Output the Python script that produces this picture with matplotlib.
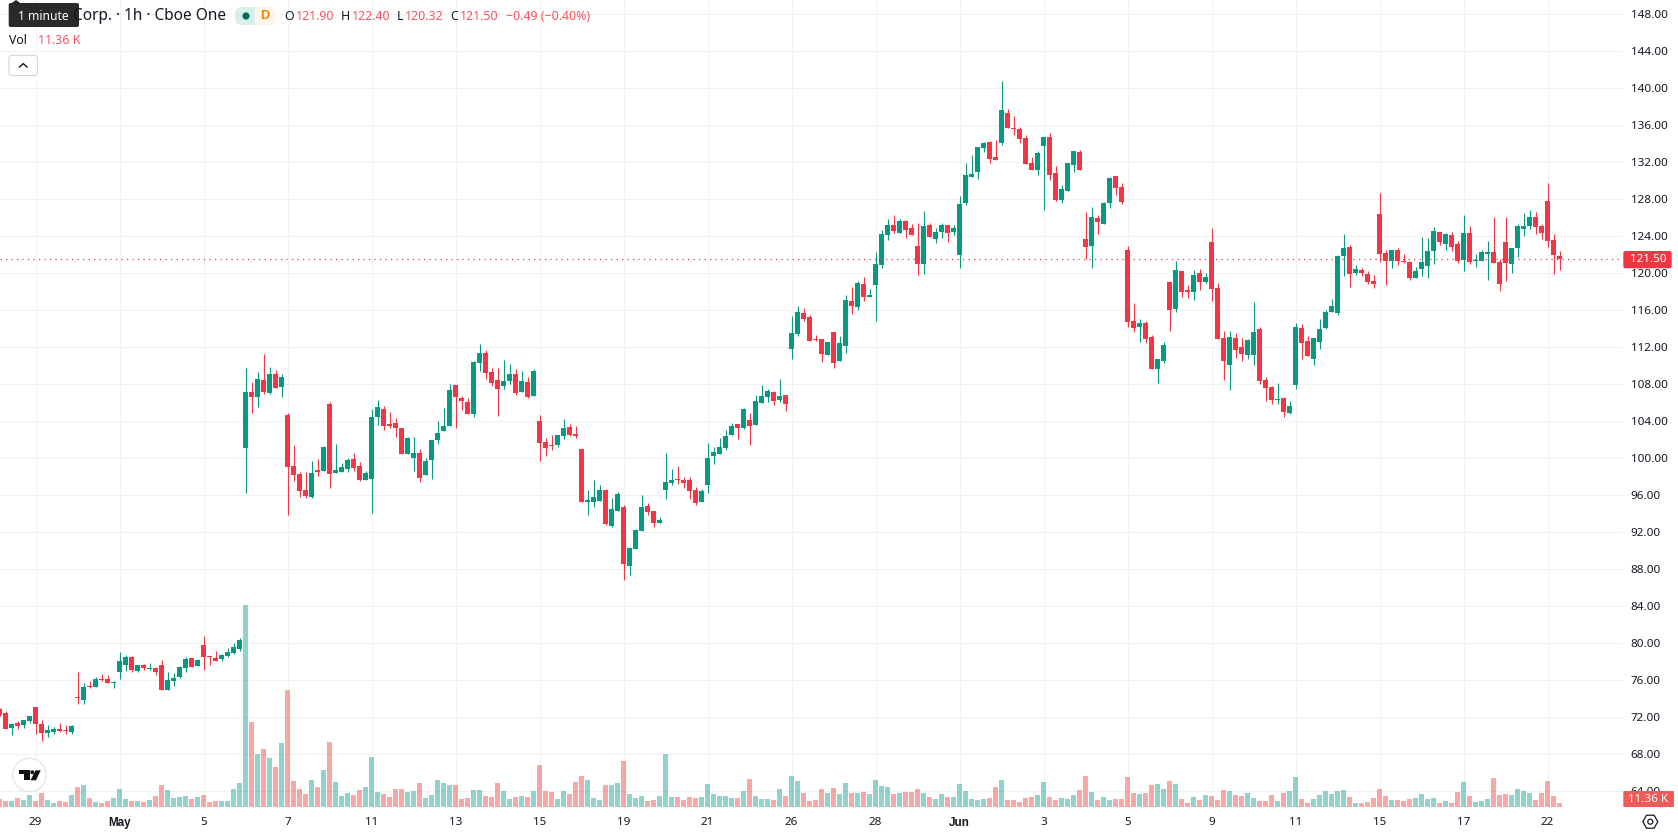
import numpy as np
import matplotlib
matplotlib.use('Agg')
import matplotlib.pyplot as plt
from matplotlib.patches import FancyBboxPatch, Rectangle, Circle, Polygon, RegularPolygon
from matplotlib.lines import Line2D
from matplotlib.transforms import Affine2D

plt.rcParams['font.family'] = ['Noto Sans', 'DejaVu Sans']

# hourly candles, oldest first
opens = [72.86,72.47,70.85,71.39,71.17,71.6,73.12,71.28,70.31,70.41,
    70.74,70.63,70.41,74.2,73.87,75.39,75.28,76.14,76.14,75.71,
    76.9,77.66,78.52,77.01,77.66,77.23,77.33,77.66,74.95,75.93,
    76.36,77.33,78.41,77.55,79.82,78.63,78.41,78.3,78.63,78.95,
    79.39,101.12,107.17,106.63,108.47,107.06,109.12,107.71,104.68,99.17,
    98.31,96.58,95.82,98.74,98.63,105.87,98.41,98.52,98.85,99.93,
    99.17,97.66,97.77,104.47,105.33,103.71,103.82,103.28,100.47,100.04,
    100.58,98.2,99.82,101.98,102.95,103.5,107.93,106.52,106.09,104.79,
    110.31,111.39,109.33,108.47,107.82,108.36,109.12,107.17,108.25,106.74,
    104.04,101.77,101.44,101.44,102.41,103.39,102.63,101.01,95.28,95.28,
    95.39,96.58,92.68,94.31,94.74,88.36,90.2,92.14,94.85,94.31,
    93.01,96.58,97.33,97.77,97.66,97.66,96.58,95.28,97.12,100.25,
    100.47,101.12,102.52,103.71,103.28,104.14,103.6,105.98,106.63,107.17,
    106.31,106.85,111.82,113.44,115.71,115.28,112.9,112.9,111.17,113.66,
    110.52,112.14,117.01,116.36,118.85,117.44,118.74,120.9,124.14,125.23,
    124.36,125.66,124.9,122.95,121.01,125.23,123.71,124.47,125.23,124.47,
    121.98,127.6,130.41,130.95,133.55,134.2,132.58,134.09,137.33,135.71,
    135.6,134.63,131.93,131.17,133.77,134.74,130.85,127.93,128.9,131.71,
    133.12,123.71,122.95,125.98,125.33,127.6,130.52,129.33,122.52,114.85,
    114.2,114.63,113.12,109.66,110.52,119.06,116.14,120.25,118.2,117.98,
    120.04,119.06,123.39,118.41,113.01,110.09,113.01,112.04,111.17,111.17,
    113.98,108.47,107.71,106.31,106.52,104.9,107.93,114.09,112.68,110.74,
    112.58,114.05,115.78,115.68,121.87,122.85,120.04,120.36,119.93,119.17,
    126.41,122.2,121.33,122.52,121.33,121.23,119.5,120.47,120.79,122.41,
    124.47,123.17,124.14,123.17,121.44,124.36,121.33,121.33,122.09,122.31,
    121.23,123.39,121.01,122.74,124.79,125.12,126.09,125.12,127.82,123.6,
    121.9]

highs = [73.0,72.68,71.28,71.6,71.71,72.14,73.12,71.71,71.17,70.95,
    71.39,71.17,71.17,76.9,75.7,75.93,76.36,76.68,76.58,75.93,
    79.06,78.74,78.63,77.66,77.77,77.87,77.44,78.2,76.9,76.79,
    77.55,78.52,78.41,78.3,80.79,78.63,79.17,78.85,79.5,80.04,
    80.58,109.77,108.25,109.33,111.28,109.87,109.55,109.12,104.9,101.44,
    98.52,98.52,99.71,99.93,101.33,106.09,101.55,99.5,100.04,100.58,
    99.6,98.63,105.33,106.31,105.66,105.0,104.36,103.28,102.31,102.31,
    101.01,100.04,101.98,104.04,105.44,108.04,107.93,106.74,106.52,110.52,
    112.36,111.71,109.77,109.77,110.63,110.2,109.66,109.44,108.79,109.66,
    104.68,102.2,102.52,102.52,104.25,103.71,103.5,101.01,96.58,97.66,
    97.12,96.68,95.71,96.36,94.95,90.41,92.36,96.04,95.17,94.31,
    93.66,100.58,98.85,99.17,97.98,97.98,96.9,96.68,101.66,101.23,
    102.2,103.06,103.82,103.71,105.44,104.9,106.85,107.93,107.5,107.28,
    108.58,106.85,115.39,116.47,116.25,115.5,113.33,112.9,112.58,113.66,
    113.23,117.66,118.52,119.17,119.6,118.31,122.31,124.68,125.87,126.31,
    125.87,125.77,125.33,125.44,126.74,125.44,124.9,125.44,125.23,125.23,
    128.36,131.93,132.79,133.66,134.2,134.31,134.41,140.79,137.77,137.01,
    135.82,134.95,132.58,133.23,134.74,135.17,131.6,129.55,131.93,133.23,
    133.33,126.63,127.17,126.31,127.71,130.41,130.52,129.77,122.95,116.79,
    115.06,114.85,113.33,110.74,112.58,119.17,121.33,120.25,118.74,120.36,
    120.47,120.04,124.9,118.95,113.77,113.77,113.55,113.01,112.9,116.9,
    114.2,108.79,107.82,108.14,106.63,106.2,114.63,114.52,113.23,113.01,
    115.06,116.0,117.19,121.98,124.25,123.06,120.9,120.58,120.25,119.82,
    128.68,122.52,122.52,122.74,122.09,121.33,120.68,123.93,123.82,125.01,
    124.47,124.36,124.47,123.5,126.31,125.12,122.09,122.52,123.5,126.09,
    121.55,126.09,122.74,125.33,126.52,126.85,126.63,125.33,129.77,124.25,
    122.4]

lows = [72.1,70.74,70.09,70.74,70.85,71.39,70.2,69.44,69.87,70.2,
    70.41,70.2,70.2,73.44,73.44,75.17,75.28,75.93,75.71,75.17,
    76.14,77.01,76.9,76.9,77.12,77.12,76.58,74.95,74.95,75.39,
    76.25,76.9,77.44,77.55,77.12,77.66,78.09,78.09,78.52,78.85,
    79.17,96.25,104.9,105.55,106.95,106.95,107.6,106.63,93.87,97.55,
    95.82,95.71,95.71,98.09,98.63,96.79,98.41,98.52,98.52,98.63,
    97.55,97.66,94.09,103.6,103.06,103.28,102.31,100.47,100.47,98.63,
    97.44,98.2,97.77,101.55,102.95,103.5,103.28,105.23,104.79,104.47,
    109.44,108.58,107.82,104.58,107.5,108.04,106.85,107.17,106.52,106.74,
    99.71,100.25,100.9,101.23,102.09,102.41,102.2,95.28,93.87,94.74,
    95.39,92.79,92.58,94.31,86.85,87.39,90.2,92.14,93.87,92.58,
    93.01,95.6,97.12,97.23,96.79,95.6,94.95,95.28,96.25,99.39,
    100.47,100.9,102.52,102.09,103.17,101.44,103.6,105.98,106.09,105.77,
    106.09,105.12,110.74,113.23,114.85,112.68,112.68,110.41,111.17,109.77,
    110.52,111.39,115.6,116.04,117.01,117.44,114.85,120.58,123.6,124.36,
    124.36,123.82,124.14,119.82,119.93,123.93,123.28,123.82,123.39,124.14,
    120.58,127.39,130.41,130.2,133.12,131.93,132.25,133.87,135.71,134.95,
    134.09,131.82,131.17,130.63,126.85,130.09,127.82,127.6,128.9,130.95,
    131.17,121.51,120.58,124.25,125.33,127.06,128.47,127.5,114.2,113.66,
    112.58,112.47,109.66,108.14,110.31,113.77,115.82,117.44,117.33,117.12,
    118.2,118.95,117.01,112.9,108.47,107.39,110.85,110.52,110.74,110.09,
    108.04,106.2,105.87,105.87,104.47,104.79,107.5,110.74,111.06,110.09,
    111.82,113.95,115.78,115.46,119.71,118.52,119.82,119.71,118.85,118.41,
    121.23,118.74,120.58,120.9,121.12,119.28,119.5,119.71,119.5,121.01,
    123.06,122.52,122.41,121.12,120.25,121.01,120.68,121.33,119.28,121.12,
    118.09,119.17,120.04,121.77,124.04,124.79,124.25,123.71,122.85,119.93,
    120.32]

closes = [72.29,70.74,71.28,71.06,71.71,72.14,71.28,70.31,70.63,70.74,
    70.52,70.52,71.06,74.09,75.28,75.28,76.14,76.04,75.71,75.82,
    78.09,78.52,77.12,77.66,77.33,77.33,76.9,74.95,76.04,76.25,
    77.44,78.3,77.44,78.2,78.52,78.52,78.09,78.74,79.06,79.6,
    80.36,107.17,106.63,108.58,107.17,109.12,107.6,108.79,99.06,98.2,
    96.47,95.93,98.41,98.52,101.22,98.31,98.74,99.06,99.82,98.95,
    97.66,98.41,104.47,105.55,103.5,103.5,103.28,100.47,102.2,100.58,
    97.87,99.71,101.98,102.74,103.5,107.39,106.63,106.2,104.79,110.41,
    111.39,109.23,108.14,107.5,108.36,109.12,107.06,108.36,106.63,109.44,
    101.66,101.12,101.33,102.52,103.28,102.52,102.41,95.28,95.5,95.82,
    96.58,92.9,94.52,96.14,88.58,90.31,92.25,94.74,94.2,93.01,
    93.33,97.44,97.66,97.66,97.33,96.47,95.17,96.47,100.04,100.68,
    101.23,102.41,103.5,103.28,105.33,103.5,106.2,106.74,107.28,106.2,
    106.74,105.87,113.55,115.82,115.06,112.68,112.79,111.28,112.58,110.31,
    112.47,117.12,116.47,118.95,117.44,117.66,121.01,124.25,125.23,124.58,
    125.66,124.68,124.14,121.01,125.12,123.93,124.47,125.23,124.36,124.9,
    127.5,130.63,130.74,133.66,134.09,132.36,132.25,137.66,135.71,135.6,
    134.52,131.82,131.17,133.01,134.74,130.63,127.93,129.12,131.93,133.23,
    131.17,122.85,126.09,125.55,127.6,130.31,129.23,127.71,114.74,114.09,
    114.63,112.9,109.66,110.74,112.25,116.04,120.36,117.98,117.98,119.82,
    119.06,119.6,118.31,112.9,110.52,113.12,111.71,111.28,112.79,113.66,
    108.36,107.6,106.31,106.41,105.01,105.66,114.2,112.47,111.06,113.01,
    113.98,115.78,116.43,121.87,122.74,119.93,120.47,120.04,119.06,118.85,
    122.09,121.33,122.52,121.33,121.23,119.5,120.25,121.23,122.41,124.58,
    123.39,124.25,122.85,121.33,124.36,121.23,121.44,122.31,122.31,121.12,
    118.85,121.12,122.74,125.12,125.12,126.09,125.01,124.36,123.5,121.99,
    121.5]

# volume in thousands
volumes = [22.7,17.0,17.0,25.6,19.9,34.1,17.0,39.8,19.9,11.4,
    17.0,14.2,34.1,56.8,62.5,25.6,14.2,11.4,17.0,25.6,
    51.1,22.7,17.0,17.0,14.2,19.9,31.2,62.5,48.3,25.6,
    28.4,31.2,22.7,28.4,34.1,14.2,17.0,17.0,17.0,51.1,
    68.2,573.7,241.4,150.5,164.7,139.2,113.6,181.8,332.3,73.8,
    51.1,36.9,76.7,56.8,105.1,184.6,71.0,31.2,39.8,34.1,
    48.3,56.8,142.0,42.6,36.9,28.4,51.1,51.1,42.6,45.4,
    68.2,25.6,34.1,76.7,68.2,62.5,62.5,22.7,25.6,48.3,
    48.3,31.2,28.4,68.2,45.4,22.7,28.4,31.2,28.4,45.4,
    119.3,45.4,42.6,22.7,45.4,36.9,71.0,88.0,76.7,25.6,
    19.9,62.5,62.5,68.2,130.6,36.9,25.6,31.2,17.0,19.9,
    31.2,150.5,28.4,28.4,19.9,28.4,25.6,28.4,65.3,36.9,
    31.2,31.2,25.6,25.6,45.4,79.5,31.2,22.7,22.7,19.9,
    51.1,31.2,88.0,73.8,39.8,17.0,19.9,51.1,39.8,54.0,
    36.9,68.2,39.8,39.8,42.6,36.9,76.7,59.6,56.8,36.9,
    39.8,42.6,42.6,51.1,39.8,28.4,22.7,36.9,28.4,28.4,
    65.3,45.4,22.7,19.9,22.7,25.6,56.8,76.7,19.9,19.9,
    14.2,25.6,28.4,34.1,71.0,28.4,19.9,25.6,22.7,34.1,
    48.3,88.0,42.6,19.9,28.4,19.9,22.7,22.7,85.2,39.8,
    36.9,39.8,62.5,65.3,51.1,73.8,65.3,22.7,11.4,28.4,
    19.9,34.1,31.2,19.9,48.3,45.4,34.1,31.2,39.8,25.6,
    17.0,17.0,34.1,17.0,39.8,45.4,85.2,22.7,11.4,22.7,
    34.1,45.4,36.9,45.4,48.3,28.4,11.4,11.4,14.2,25.6,
    51.1,31.2,19.9,19.9,17.0,22.7,25.6,36.9,22.7,25.6,
    11.4,17.0,11.4,42.6,71.0,31.2,14.2,17.0,22.7,82.4,
    34.1,36.9,34.1,51.1,45.4,39.8,19.9,39.8,73.8,31.2,
    11.36]

price_ticks = list(range(64, 152, 4))
time_ticks = [6, 20, 34, 48, 62, 76, 90, 104, 118, 132, 146, 160, 174, 188, 202, 216, 230, 244, 258]
time_labels = ['29', 'May', '5', '7', '11', '13', '15', '19', '21', '26', '28', 'Jun', '3', '5', '9', '11', '15', '17', '22']
last_price = 121.50

UP = '#089981'
DOWN = '#F23645'
INK = '#131722'
RED_TXT = '#F7525F'
W, H = 1678, 835

o = np.array(opens)
c = np.array(closes)
hi = np.array(highs)
lo = np.array(lows)
vol = np.array(volumes)
x = np.arange(len(o))
is_up = c >= o
cols = np.where(is_up, UP, DOWN)
vcols = np.where(is_up, '#26a69a', '#ef5350')

fig = plt.figure(figsize=(W / 100, H / 100), dpi=100, facecolor='white')
# top-left pixel coordinates for the header overlays
px = Affine2D().scale(1, -1).translate(0, H)

ax = fig.add_axes([0, 25 / H, 1623 / W, 810 / H])
ax.set_xlim(0.083, 270.58)
ax.set_ylim(61.98, 149.55)
ax.set_facecolor('white')
for s in ax.spines.values():
    s.set_visible(False)

# candles
ax.vlines(x, lo, hi, colors=cols, linewidth=0.8, zorder=2)
ax.bar(x, np.abs(c - o), bottom=np.minimum(o, c), width=5 / 6, color=cols, linewidth=0, zorder=3)
ax.axhline(last_price, color=DOWN, linewidth=0.9, linestyle=(0, (1, 3.4)), zorder=4)

# volume pane shares the x axis, 0.352 px per 1K
ax2 = ax.twinx()
ax2.set_xlim(ax.get_xlim())
ax2.set_ylim(-8.5, 2292.6)
ax2.patch.set_visible(False)
ax2.axis('off')
ax2.bar(x, vol, width=5 / 6, color=vcols, alpha=0.5, linewidth=0)

# twinx moves the price ticks to the left, so set the axes up after it
ax.grid(True, color='#F1F1F1', linewidth=0.72)
ax.set_axisbelow(True)
ax.yaxis.tick_right()
ax.set_xticks(time_ticks)
ax.set_xticklabels(time_labels)
ax.set_yticks(price_ticks)
ax.set_yticklabels(['%.2f' % p for p in price_ticks])
ax.tick_params(axis='both', length=0, labelsize=8.4, labelcolor=INK)
ax.tick_params(axis='x', pad=5)
ax.tick_params(axis='y', pad=5.6)
# Noto Sans here has no bold cut
for lab in ax.get_xticklabels():
    if lab.get_text() in ('May', 'Jun'):
        lab.set_fontfamily('Liberation Sans')
        lab.set_fontweight('bold')


def label(xp, yp, s, color=INK, size=8.9, ha='left', **kw):
    fig.text(xp, yp, s, transform=px, color=color, fontsize=size, ha=ha, va='center', zorder=20, **kw)


def box(x0, y0, x1, y1, color, radius=2, edge='none', z=15):
    fig.add_artist(FancyBboxPatch((x0, y0), x1 - x0, y1 - y0, boxstyle='round,pad=0,rounding_size=%g' % radius,
                                  transform=px, facecolor=color, edgecolor=edge, linewidth=0.8, zorder=z))


# legend row
label(226.6, 16, 'Corp. · 1h · Cboe One', size=11.1, ha='right')
box(8.7, 3, 79, 27, '#2A2A2A', radius=2, z=16)
fig.add_artist(Polygon([[11, 3.5], [16, 0], [21, 3.5]], transform=px, facecolor='#2A2A2A', edgecolor='none', zorder=16))
label(43.8, 16, '1 minute', color='white', size=8.7, ha='center')

box(235, 7, 275, 25, '#FFF5E8', radius=8)
fig.add_artist(FancyBboxPatch((235, 7), 24, 18, boxstyle='round,pad=0,rounding_size=8', transform=px,
                              facecolor='#D5EFEB', edgecolor='none', zorder=15.2))
fig.add_artist(Rectangle((255, 7), 20, 18, transform=px, facecolor='#FFF5E8', edgecolor='none', zorder=15.3))
box(262, 7, 275, 25, '#FFF5E8', radius=8, z=15.4)
fig.add_artist(Circle((246, 16), 3.6, transform=px, facecolor='#006B5B', edgecolor='none', zorder=16))
label(264.5, 16, 'D', color='#F57C00', size=9, ha='center', fontweight='bold', family='Liberation Sans')

for name, xn, val, xv in [('O', 284, '121.90', 296), ('H', 341, '122.40', 351.5), ('L', 396.6, '120.32', 405), ('C', 450, '121.50', 460)]:
    label(xn, 16, name)
    label(xv, 16, val, color=RED_TXT)
label(506, 16, '−0.49 (−0.40%)', color=RED_TXT)
label(9, 40.7, 'Vol')
label(37.6, 40.7, '11.36 K', color=RED_TXT)

# collapse button
box(9, 55.5, 37.5, 75.5, 'white', radius=3, edge='#D6D6D6')
fig.add_artist(Line2D([19.5, 23.3, 27], [67, 63.6, 67], transform=px, color=INK, linewidth=1.0, zorder=20))

# last value tags on the price scale
box(1623.3, 251, 1671.7, 268.3, DOWN, radius=2)
label(1648.5, 259.7, '121.50', color='white', size=8.4, ha='center')
box(1623.3, 791, 1674, 807, '#F05A58', radius=1)
label(1648.5, 799.3, '11.36 K', color='white', size=8.4, ha='center')

# chart settings icon
fig.add_artist(RegularPolygon((1650.3, 821.7), 6, radius=7.5, orientation=np.pi / 6, transform=px,
                              facecolor='none', edgecolor=INK, linewidth=0.9, zorder=20))
fig.add_artist(Circle((1650.3, 821.7), 2.5, transform=px, facecolor='none', edgecolor=INK, linewidth=0.9, zorder=20))

# logo badge
fig.add_artist(Circle((29.5, 775), 16.7, transform=px, facecolor='white', edgecolor='#E6E6E6', linewidth=1.0, zorder=15))
fig.add_artist(Polygon([[19, 770.3], [29.5, 770.3], [29.5, 780.3], [23.8, 780.3], [23.8, 774.3], [19, 774.3]],
                       transform=px, facecolor='#111111', edgecolor='none', zorder=16))
fig.add_artist(Circle((32.3, 772.3), 2, transform=px, facecolor='#111111', edgecolor='none', zorder=16))
fig.add_artist(Polygon([[35.5, 770.3], [40.7, 770.3], [36, 780.3], [30.5, 780.3]],
                       transform=px, facecolor='#111111', edgecolor='none', zorder=16))

fig.savefig('out.png', dpi=100)
